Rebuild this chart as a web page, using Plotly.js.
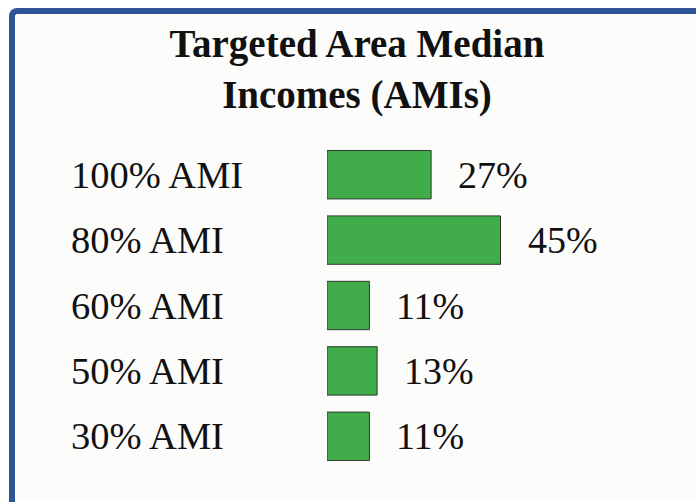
<!DOCTYPE html>
<html>
<head>
<meta charset="utf-8">
<script src="https://cdn.plot.ly/plotly-3.0.1.min.js"></script>
<style>
  html, body { margin: 0; padding: 0; background: #ffffff; }
  #wrap { position: relative; width: 696px; height: 502px; overflow: hidden; }
  #frame { position: absolute; left: 9px; top: 8px; width: 700px; height: 510px;
           background: #fcfcfa; border-left: 6px solid #2f5597; border-top: 6px solid #2f5597;
           border-top-left-radius: 8px; box-sizing: border-box; }
  #chart { position: absolute; left: 0; top: 0; width: 696px; height: 502px; }
</style>
</head>
<body>
<div id="wrap">
  <div id="frame"></div>
  <div id="chart"></div>
</div>
<script>
const categories = ['100% AMI', '80% AMI', '60% AMI', '50% AMI', '30% AMI'];
const values = [27, 45, 11, 13, 11];
const valueLabels = ['27%', '45%', '11%', '13%', '11%'];
const titleText = 'Targeted Area Median<br>Incomes (AMIs)';

const serif = 'Liberation Serif, Times New Roman, serif';

const trace = {
  type: 'bar',
  orientation: 'h',
  x: values,
  y: categories,
  marker: { color: '#41ad4a', line: { color: '#2e3a2e', width: 1 } },
  hoverinfo: 'none'
};

const annotations = [];
categories.forEach((c, i) => {
  annotations.push({
    xref: 'paper', yref: 'y', x: -0.699, y: c, xanchor: 'left', yanchor: 'middle',
    text: c, showarrow: false, font: { family: serif, size: 38.5, color: '#111111' }
  });
  annotations.push({
    xref: 'x', yref: 'y', x: values[i], y: c, xanchor: 'left', yanchor: 'middle',
    xshift: 25, text: valueLabels[i], showarrow: false,
    font: { family: serif, size: 38, color: '#111111' }
  });
});

const layout = {
  width: 696, height: 502,
  margin: { l: 327, r: 0, t: 142, b: 33 },
  paper_bgcolor: 'rgba(0,0,0,0)',
  plot_bgcolor: 'rgba(0,0,0,0)',
  title: {
    text: titleText,
    font: { family: serif, size: 39, color: '#111111', weight: 'bold' },
    x: 357 / 696, xref: 'container', xanchor: 'center',
    y: 1 - 57 / 502, yref: 'container', yanchor: 'top'
  },
  xaxis: { range: [0, 95.7], visible: false, fixedrange: true },
  yaxis: { autorange: 'reversed', showticklabels: false, showgrid: false, zeroline: false,
           showline: false, ticks: '', fixedrange: true },
  bargap: 0.26,
  showlegend: false,
  annotations: annotations
};

Plotly.newPlot('chart', [trace], layout, { displayModeBar: false, staticPlot: true });
</script>
</body>
</html>
